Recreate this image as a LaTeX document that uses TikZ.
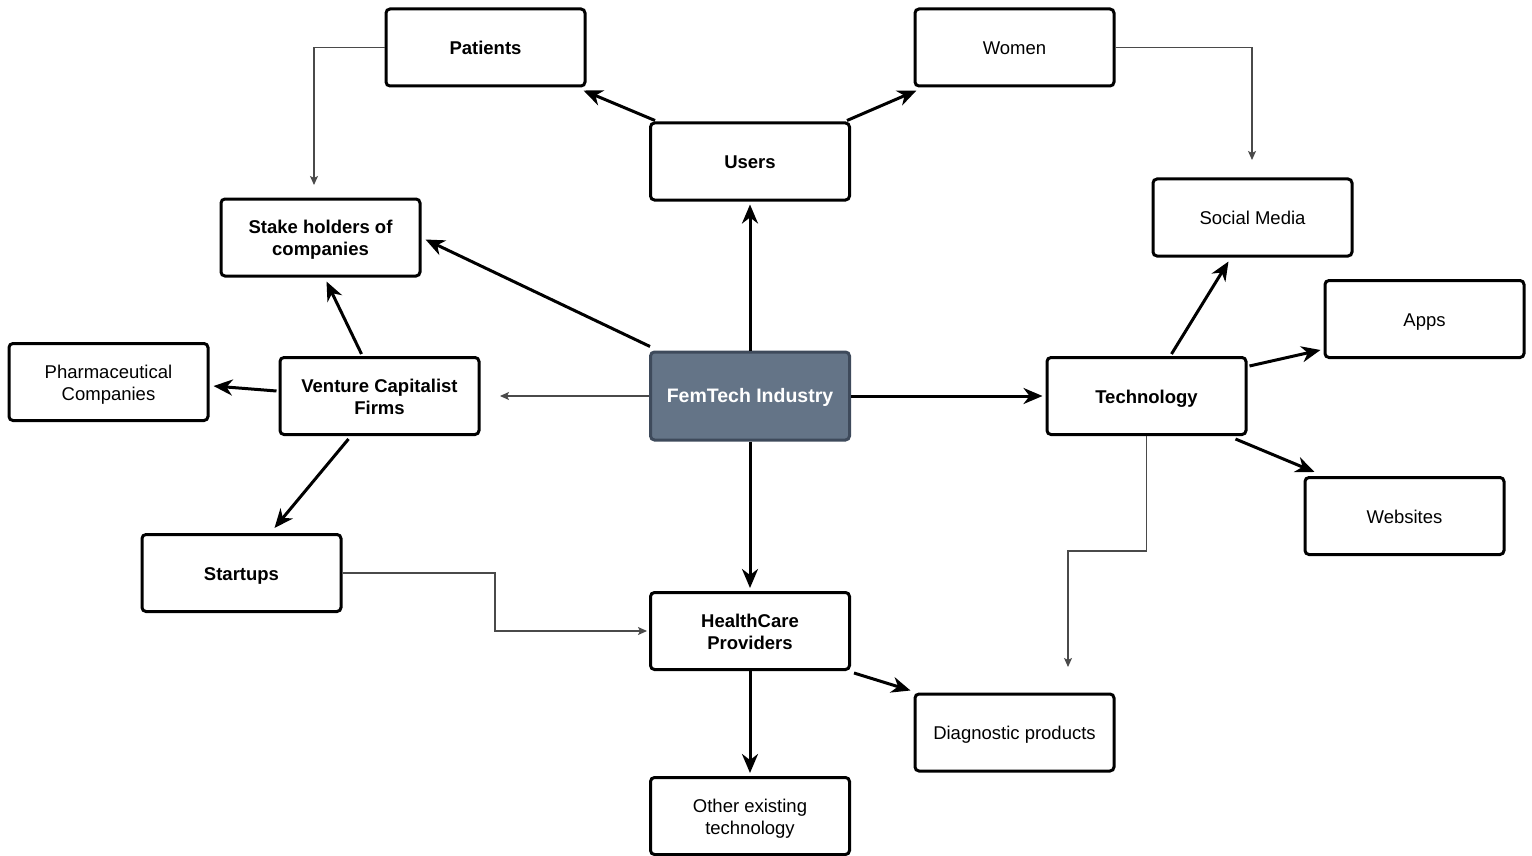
\documentclass[tikz,border=0pt]{standalone}
\usepackage{fontspec}
\setmainfont{Liberation Sans}
\usetikzlibrary{arrows.meta}
\definecolor{femfill}{HTML}{647487}
\definecolor{femdraw}{HTML}{3E4A5B}
\definecolor{thinline}{HTML}{4A4A4A}
\newcommand\lnstrut{\rule[-4pt]{0pt}{22pt}}
\tikzset{
  box/.style={draw=black, line width=3pt, rounded corners=4pt, minimum width=199pt, minimum height=77pt,
    align=center, font=\fontsize{18.5}{22}\selectfont, inner sep=2pt},
  bbox/.style={box, font=\fontsize{18.5}{22}\selectfont\bfseries},
  thickarrow/.style={line width=3pt, -{Stealth[length=19pt,width=16pt,inset=6pt]}},
  thinarrow/.style={draw=thinline, line width=1.2pt, -{Stealth[length=9pt,width=8pt,inset=2pt]}}
}
\begin{document}
\begin{tikzpicture}[x=1pt,y=-1pt]
\useasboundingbox (0,0) rectangle (1532,856);

\node[bbox] (patients) at (485.5,47.5) {\lnstrut Patients};
\node[box] (women) at (1014.5,47.5) {\lnstrut Women};
\node[bbox] (users) at (750,161.5) {\lnstrut Users};
\node[bbox] (stake) at (320.5,237.5) {\lnstrut Stake holders of\\\lnstrut companies};
\node[box] (social) at (1252.5,217.5) {\lnstrut Social Media};
\node[box] (apps) at (1424.5,319) {\lnstrut Apps};
\node[box] (pharma) at (108.5,382) {\lnstrut Pharmaceutical\\\lnstrut Companies};
\node[bbox] (vc) at (379.5,396) {\lnstrut Venture Capitalist\\\lnstrut Firms};
\node[box, fill=femfill, draw=femdraw, minimum height=88pt, text=white,
  font=\fontsize{19.5}{23}\selectfont\bfseries] (fem) at (750,396) {\lnstrut FemTech Industry};
\node[bbox] (tech) at (1146.5,396) {\lnstrut Technology};
\node[box] (web) at (1404.5,516) {\lnstrut Websites};
\node[bbox] (startups) at (241.5,573) {\lnstrut Startups};
\node[bbox] (hc) at (750,631) {\lnstrut HealthCare\\\lnstrut Providers};
\node[box] (diag) at (1014.5,732.5) {\lnstrut Diagnostic products};
\node[box] (other) at (750,816) {\lnstrut Other existing\\\lnstrut technology};

% thick arrows
\draw[thickarrow] ([shift={(6,-1)}]users.north west) -- ([shift={(-3,3)}]patients.south east);
\draw[thickarrow] ([shift={(-4,-1)}]users.north east) -- ([shift={(3,3)}]women.south west);
\draw[thickarrow] (fem.north) -- ([yshift=-3pt]users.south);
\draw[thickarrow] ([shift={(1,-4)}]fem.north west) -- ([shift={(4,2)}]stake.east);
\draw[thickarrow] ([shift={(-18,-2)}]vc.north) -- ([shift={(6,4)}]stake.south);
\draw[thickarrow] ([shift={(-2,-5)}]vc.west) -- ([shift={(4,4)}]pharma.east);
\draw[thickarrow] ([shift={(-31,3)}]vc.south) -- ([shift={(33,-5)}]startups.north);
\draw[thickarrow] (fem.east) -- ([xshift=-3pt]tech.west);
\draw[thickarrow] (fem.south) -- ([yshift=3pt]hc.north);
\draw[thickarrow] (hc.south) -- ([yshift=3pt]other.north);
\draw[thickarrow] ([shift={(3,2)}]hc.south east) -- ([shift={(-3,-2)}]diag.north west);
\draw[thickarrow] ([shift={(25,-2)}]tech.north) -- ([shift={(-24,4)}]social.south);
\draw[thickarrow] ([shift={(2,10)}]tech.north east) -- ([shift={(-3,-9)}]apps.south west);
\draw[thickarrow] ([shift={(-12,3)}]tech.south east) -- ([shift={(11,-4)}]web.north west);

% thin arrows
\coordinate (femend) at (500,396);
\coordinate (patend) at (314,185);
\coordinate (womend) at (1252,160);
\coordinate (techend) at (1068,667);
\draw[thinarrow] (fem.west) -- (femend);
\draw[thinarrow] (patients.west) -| (patend);
\draw[thinarrow] (women.east) -| (womend);
\draw[thinarrow] (tech.south) -- (1146.5,551) -- (1068,551) -- (techend);
\draw[thinarrow] (startups.east) -- (495,573) -- (495,631) -- ([xshift=-2pt]hc.west);
\end{tikzpicture}
\end{document}
